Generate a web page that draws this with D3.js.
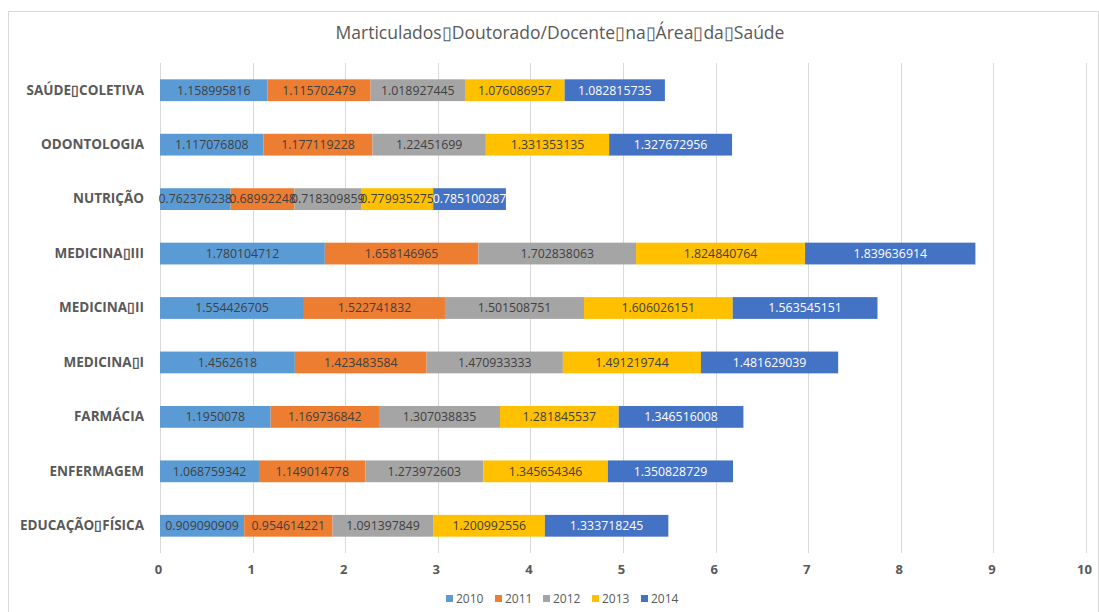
<!DOCTYPE html>
<html>
<head>
<meta charset="utf-8">
<script src="https://cdn.jsdelivr.net/npm/d3@7"></script>
<style>
    html, body { margin: 0; padding: 0; background: #fff; }
    svg { display: block; }
</style>
</head>
<body>
<div id="chart"></div>
<script>
// the missing-glyph boxes in the source text are kept as a box character
const BOX = '\u25AF';

const categories = [
    'SAÚDE' + BOX + 'COLETIVA',
    'ODONTOLOGIA',
    'NUTRIÇÃO',
    'MEDICINA' + BOX + 'III',
    'MEDICINA' + BOX + 'II',
    'MEDICINA' + BOX + 'I',
    'FARMÁCIA',
    'ENFERMAGEM',
    'EDUCAÇÃO' + BOX + 'FÍSICA'
];

const years = ['2010', '2011', '2012', '2013', '2014'];

const values2010 = [1.158995816, 1.117076808, 0.762376238, 1.780104712, 1.554426705, 1.4562618, 1.1950078, 1.068759342, 0.909090909];
const values2011 = [1.115702479, 1.177119228, 0.68992248, 1.658146965, 1.522741832, 1.423483584, 1.169736842, 1.149014778, 0.954614221];
const values2012 = [1.018927445, 1.22451699, 0.718309859, 1.702838063, 1.501508751, 1.470933333, 1.307038835, 1.273972603, 1.091397849];
const values2013 = [1.076086957, 1.331353135, 0.779935275, 1.824840764, 1.606026151, 1.491219744, 1.281845537, 1.345654346, 1.200992556];
const values2014 = [1.082815735, 1.327672956, 0.785100287, 1.839636914, 1.563545151, 1.481629039, 1.346516008, 1.350828729, 1.333718245];

const xTicks = [0, 1, 2, 3, 4, 5, 6, 7, 8, 9, 10];
const title = 'Marticulados' + BOX + 'Doutorado/Docente' + BOX + 'na' + BOX + 'Área' + BOX + 'da' + BOX + 'Saúde';

const colors = ['#5B9BD5', '#ED7D31', '#A5A5A5', '#FFC000', '#4472C4'];
const labelColors = ['#404040', '#404040', '#404040', '#404040', '#ffffff'];

const width = 1099;
const height = 612;
const margin = { top: 63, right: 13, bottom: 59, left: 160 };
const font = '"Open Sans", "Noto Sans", Calibri, sans-serif';

const rows = categories.map((name, i) => {
    const row = { name };
    [values2010, values2011, values2012, values2013, values2014].forEach((arr, k) => {
        row[years[k]] = arr[i];
    });
    return row;
});

const stacked = d3.stack().keys(years)(rows);

const svg = d3.select('#chart')
    .append('svg')
    .attr('width', width)
    .attr('height', height);

// chart border
svg.append('rect')
    .attr('x', 8.5)
    .attr('y', 11.5)
    .attr('width', width - 9)
    .attr('height', height - 10)
    .attr('fill', '#fff')
    .attr('stroke', '#d9d9d9');

const x = d3.scaleLinear()
    .domain([0, 10])
    .range([margin.left, width - margin.right]);

const y = d3.scaleBand()
    .domain(categories)
    .range([margin.top, height - margin.bottom])
    .paddingInner(0.6)
    .paddingOuter(0.3);

// vertical gridlines
svg.append('g')
    .selectAll('line')
    .data(xTicks)
    .join('line')
    .attr('x1', (d) => Math.round(x(d)) + 0.5)
    .attr('x2', (d) => Math.round(x(d)) + 0.5)
    .attr('y1', margin.top)
    .attr('y2', height - margin.bottom)
    .attr('stroke', '#d9d9d9')
    .attr('stroke-width', 1);

// x tick labels
const xAxis = svg.append('g')
    .attr('transform', `translate(-2,${height - margin.bottom})`)
    .call(d3.axisBottom(x).tickValues(xTicks).tickSize(0).tickPadding(12).tickFormat(d3.format('d')));
xAxis.select('.domain').remove();
xAxis.selectAll('text')
    .attr('fill', '#595959')
    .style('font-family', '"Liberation Sans Narrow", "Open Sans", sans-serif')
    .style('font-size', '13px')
    .style('font-weight', 'bold');

// category labels
const yAxis = svg.append('g')
    .attr('transform', `translate(${margin.left - 16},0)`)
    .call(d3.axisLeft(y).tickSize(0).tickPadding(0));
yAxis.select('.domain').remove();
yAxis.selectAll('text')
    .attr('fill', '#595959')
    .style('font-family', font)
    .style('font-size', '13.5px')
    .style('font-weight', 'bold');

// stacked segments
const layers = svg.append('g')
    .selectAll('g')
    .data(stacked)
    .join('g')
    .attr('fill', (d, i) => colors[i]);

layers.selectAll('rect')
    .data((d) => d)
    .join('rect')
    .attr('x', (d) => x(d[0]))
    .attr('y', (d) => y(d.data.name))
    .attr('width', (d) => x(d[1]) - x(d[0]))
    .attr('height', y.bandwidth());

// data labels
const labelLayers = svg.append('g')
    .selectAll('g')
    .data(stacked)
    .join('g')
    .attr('fill', (d, i) => labelColors[i]);

labelLayers.selectAll('text')
    .data((d) => d.map((seg) => ({ seg, key: d.key })))
    .join('text')
    .attr('x', (d) => (x(d.seg[0]) + x(d.seg[1])) / 2)
    .attr('y', (d) => y(d.seg.data.name) + y.bandwidth() / 2)
    .attr('dy', '0.35em')
    .attr('text-anchor', 'middle')
    .style('font-family', font)
    .style('font-size', '12.3px')
    .text((d) => String(d.seg.data[d.key]));

// title
svg.append('text')
    .attr('x', 560)
    .attr('y', 39)
    .attr('text-anchor', 'middle')
    .attr('fill', '#595959')
    .style('font-family', font)
    .style('font-size', '17.5px')
    .text(title);

// legend
const legendX = [446, 495, 543, 592, 641];
const legend = svg.append('g')
    .selectAll('g')
    .data(years)
    .join('g')
    .attr('transform', (d, i) => `translate(${legendX[i]},599)`);

legend.append('rect')
    .attr('x', 0)
    .attr('y', -4)
    .attr('width', 7)
    .attr('height', 7)
    .attr('fill', (d, i) => colors[i]);

legend.append('text')
    .attr('x', 10)
    .attr('y', 0)
    .attr('dy', '0.35em')
    .attr('fill', '#595959')
    .style('font-family', font)
    .style('font-size', '12px')
    .text((d) => d);
</script>
</body>
</html>
